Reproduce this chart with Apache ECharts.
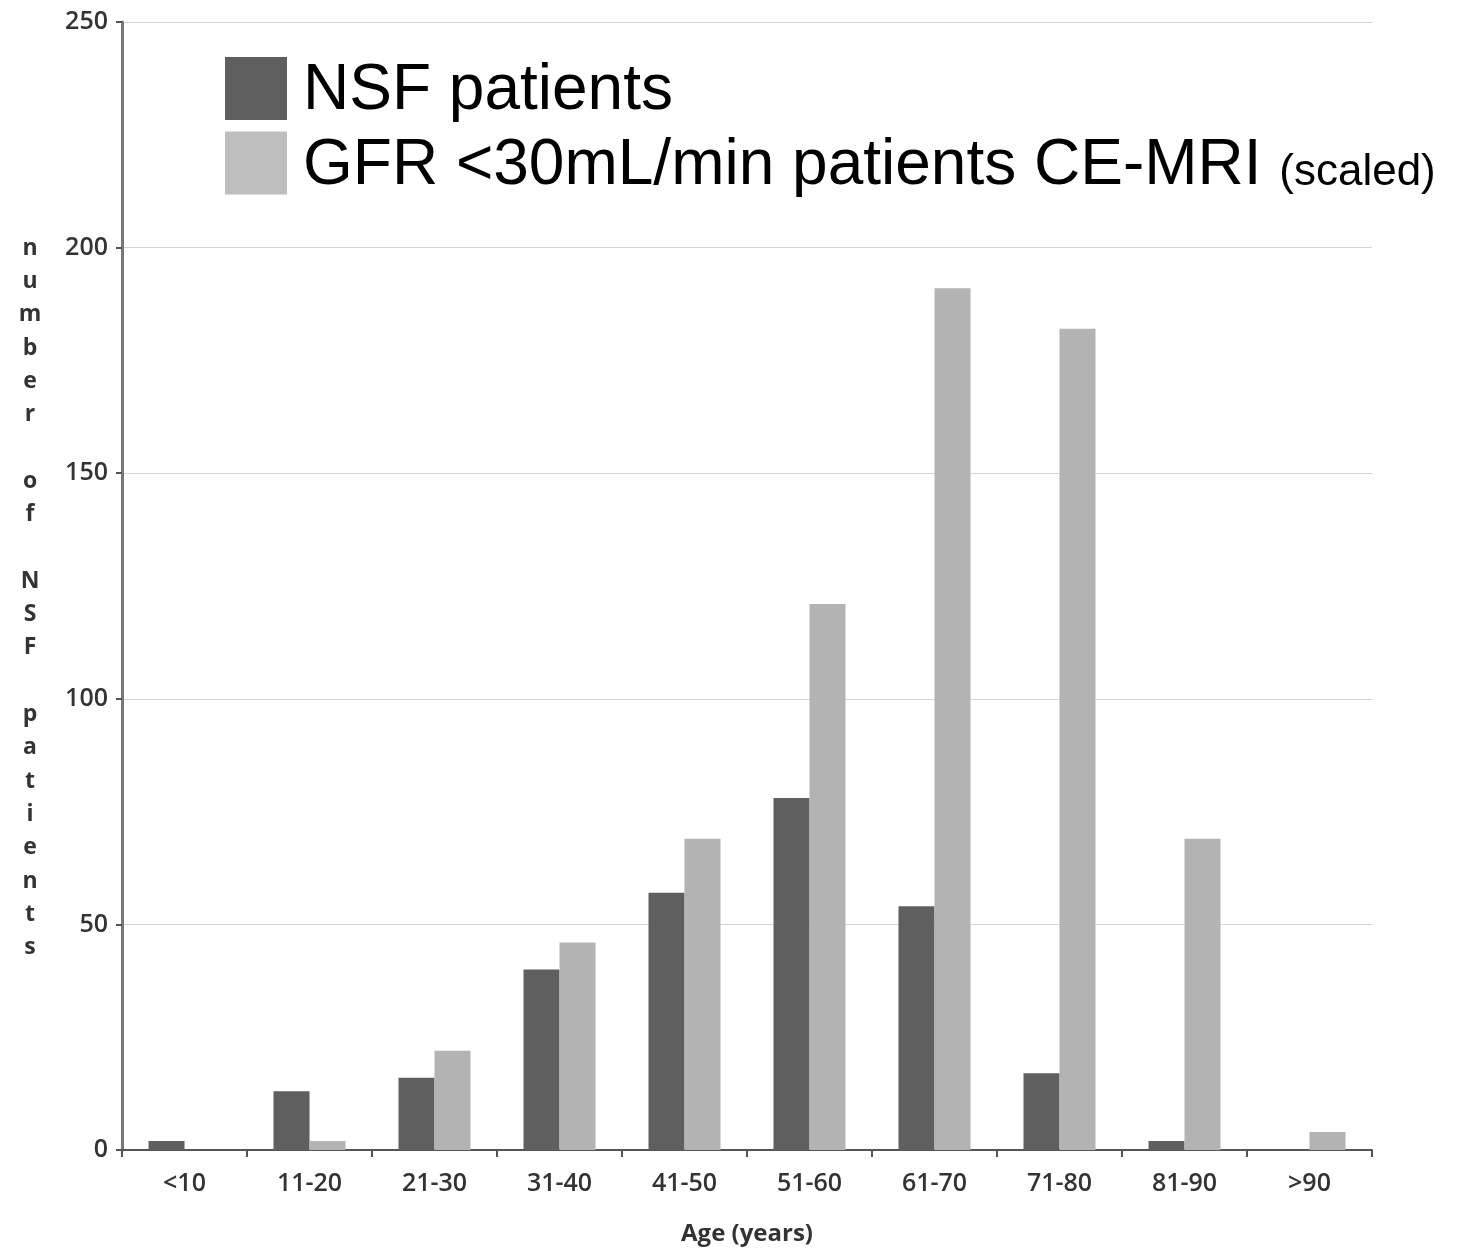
<!DOCTYPE html>
<html>
<head>
<meta charset="utf-8">
<script src="https://cdn.jsdelivr.net/npm/echarts@6/dist/echarts.min.js"></script>
<style>
  html, body { margin: 0; padding: 0; background: #fff; }
  #chart { width: 1460px; height: 1252px; }
</style>
</head>
<body>
<div id="chart"></div>
<script>
// age groups and counts
var ageGroups = ['<10', '11-20', '21-30', '31-40', '41-50', '51-60', '61-70', '71-80', '81-90', '>90']
var nsfPatients = [2, 13, 16, 40, 57, 78, 54, 17, 2, 0]
var gfrPatients = [0, 2, 22, 46, 69, 121, 191, 182, 69, 4]
var yTicks = [0, 50, 100, 150, 200, 250]

var nsfName = 'NSF patients'
var gfrName = 'GFR <30mL/min patients CE-MRI'

var chart = echarts.init(document.getElementById('chart'))

// stacked single letters, blank line between words
var yName = 'number of NSF patients'.split('').map(function(c) {
  return c === ' ' ? '' : c
}).join('\n')

chart.setOption({
  animation: false,
  grid: {
    left: 122,
    right: 88,
    top: 22,
    bottom: 102
  },
  graphic: [
    {
      type: 'text',
      x: 30,
      y: 598,
      style: {
        text: yName,
        x: 0,
        y: 0,
        align: 'center',
        verticalAlign: 'middle',
        fontFamily: 'Open Sans',
        fontWeight: 'bold',
        fontSize: 23,
        lineHeight: 33.3,
        fill: '#333'
      }
    }
  ],
  legend: {
    orient: 'vertical',
    left: 225,
    top: 57,
    padding: 0,
    itemWidth: 62,
    itemHeight: 63,
    itemGap: 8,
    icon: 'rect',
    data: [
      { name: nsfName, itemStyle: { color: '#5f5f5f' } },
      { name: gfrName, itemStyle: { color: '#bebebe' } }
    ],
    formatter: function(name) {
      return name === gfrName ? name + ' {s|(scaled)}' : name
    },
    textStyle: {
      fontFamily: 'Liberation Sans, Arial, sans-serif',
      fontSize: 64,
      lineHeight: 57,
      color: '#000',
      padding: [6, 0, 0, 11],
      rich: {
        s: {
          fontFamily: 'Liberation Sans, Arial, sans-serif',
          fontSize: 44,
          lineHeight: 57,
          color: '#000',
          padding: [14, 0, 0, 0]
        }
      }
    }
  },
  xAxis: {
    type: 'category',
    data: ageGroups,
    name: 'Age (years)',
    nameLocation: 'middle',
    nameGap: 72,
    nameTextStyle: {
      fontFamily: 'Open Sans',
      fontWeight: 'bold',
      fontSize: 24,
      color: '#333'
    },
    axisLine: { lineStyle: { color: '#555', width: 2 } },
    axisTick: { show: true, length: 7, lineStyle: { color: '#555', width: 2 } },
    axisLabel: {
      margin: 21,
      fontFamily: 'Open Sans',
      fontWeight: 600,
      fontSize: 25,
      color: '#333'
    }
  },
  yAxis: {
    type: 'value',
    min: yTicks[0],
    max: yTicks[yTicks.length - 1],
    interval: 50,
    axisLine: { show: true, lineStyle: { color: '#777', width: 3 } },
    axisTick: { show: true, length: 6, lineStyle: { color: '#555', width: 2 } },
    axisLabel: {
      margin: 14,
      fontFamily: 'Open Sans',
      fontWeight: 600,
      fontSize: 25,
      color: '#333'
    },
    splitLine: { lineStyle: { color: '#d4d4d4', width: 1 } }
  },
  series: [
    {
      name: nsfName,
      type: 'bar',
      data: nsfPatients,
      barWidth: 36,
      barGap: '0%',
      itemStyle: { color: '#5f5f5f' }
    },
    {
      name: gfrName,
      type: 'bar',
      data: gfrPatients,
      barWidth: 36,
      barGap: '0%',
      itemStyle: { color: '#b3b3b3' }
    }
  ]
})
</script>
</body>
</html>
